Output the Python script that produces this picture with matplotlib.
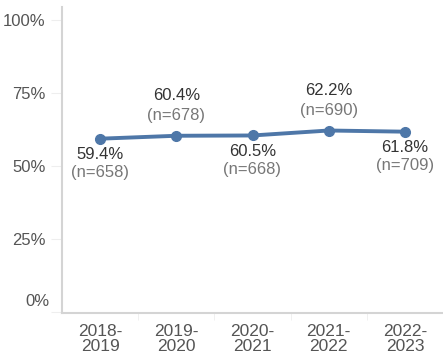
import numpy as np
import matplotlib.pyplot as plt
from matplotlib.ticker import FixedLocator

plt.rcParams['font.family'] = ['Liberation Sans', 'DejaVu Sans']

# Datos de la serie
anios = ['2018-\n2019', '2019-\n2020', '2020-\n2021', '2021-\n2022', '2022-\n2023']
porcentaje = [59.4, 60.4, 60.5, 62.2, 61.8]
n_casos = [658, 678, 668, 690, 709]
etiqueta_arriba = [False, True, False, True, False]
ticks_y = [0, 25, 50, 75, 100]

azul = '#4e77a8'

fig = plt.figure(figsize=(4.43, 3.58), dpi=100)
ax = fig.add_axes([62 / 443, 45 / 358, 1 - 62 / 443, 306 / 358])

x = np.arange(len(anios))
ax.plot(x, porcentaje, color=azul, linewidth=2.8, marker='o', markersize=7,
        solid_capstyle='round')

# Etiquetas de cada punto: porcentaje y n
for xi, p, n, arriba in zip(x, porcentaje, n_casos, etiqueta_arriba):
    if arriba:
        off_p, off_n = 40, 20
    else:
        off_p, off_n = -16, -34
    ax.annotate(f'{p}%', (xi, p), xytext=(0, off_p), textcoords='offset pixels',
                ha='center', va='center', fontsize=12, color='#333333')
    ax.annotate(f'(n={n})', (xi, p), xytext=(0, off_n), textcoords='offset pixels',
                ha='center', va='center', fontsize=12, color='#777777')

ax.set_ylim(-0.3, 104.5)
ax.set_xlim(-0.5, 4.5)
ax.set_yticks(ticks_y)
# el 0% se escribe aparte, un poco más arriba para que no choque con el eje
ax.set_yticklabels([''] + [f'{t}%' for t in ticks_y[1:]])
ax.annotate(f'{ticks_y[0]}%', (0, ticks_y[0]), xycoords=ax.get_yaxis_transform(),
            xytext=(-12, 11), textcoords='offset pixels', ha='right', va='center',
            fontsize=12, color='#555555')
ax.set_xticks(x)
ax.set_xticklabels(anios, linespacing=1.0)
ax.xaxis.set_minor_locator(FixedLocator([0.5, 1.5, 2.5, 3.5]))

for lado in ['top', 'right']:
    ax.spines[lado].set_visible(False)
for lado in ['left', 'bottom']:
    ax.spines[lado].set_color('#d4d4d4')
    ax.spines[lado].set_linewidth(1.5)

ax.tick_params(axis='y', length=8, color='#eeeeee', labelsize=12,
               labelcolor='#555555', pad=4)
ax.tick_params(axis='x', which='major', length=0, labelsize=12.5,
               labelcolor='#555555', pad=8)
ax.tick_params(axis='x', which='minor', length=5, color='#eeeeee')

fig.savefig('out.png', dpi=100)
